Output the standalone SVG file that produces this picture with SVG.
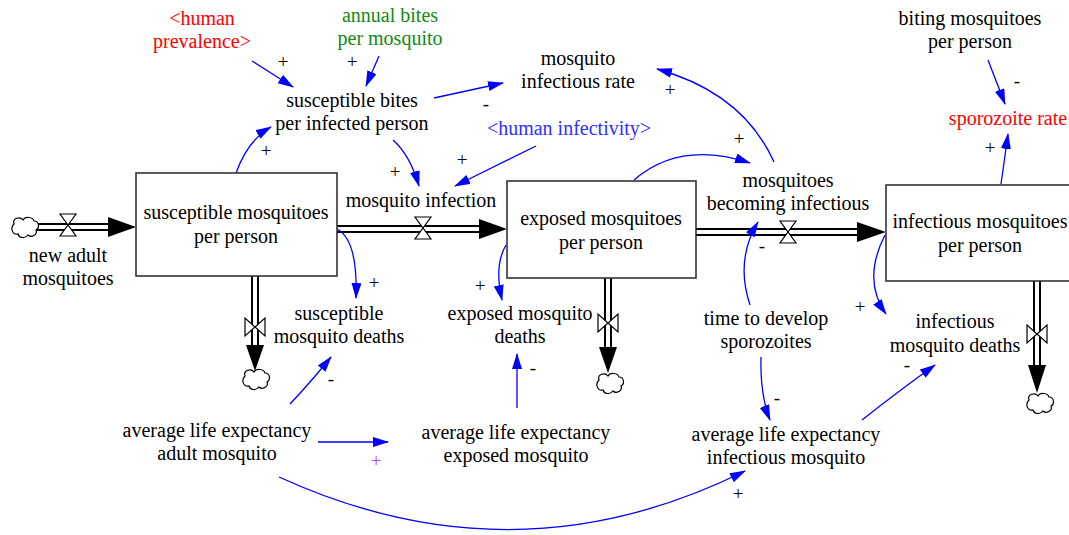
<svg xmlns="http://www.w3.org/2000/svg" xmlns:xlink="http://www.w3.org/1999/xlink" width="1069" height="535" viewBox="0 0 1069 535">
<style>
text{font-family:"Liberation Serif","Times New Roman",serif;font-size:20px;text-anchor:middle;fill:#000}
.sign{font-size:19px}
.stock{fill:#fff;stroke:#333;stroke-width:1.6}
.pipeO{stroke:#000;stroke-width:8;fill:none}
.pipeI{stroke:#fff;stroke-width:4;fill:none}
.head{fill:#000}
.valve{fill:#fff;stroke:#000;stroke-width:1.2}
.link{fill:none;stroke:#0000ff;stroke-width:1.3;marker-end:url(#arr)}
</style>
<defs>
<marker id="arr" markerUnits="userSpaceOnUse" markerWidth="18" markerHeight="12" refX="15" refY="5" orient="auto">
<path d="M0,0 L16,5 L0,10 Z" fill="#0000ff"/>
</marker>
<path id="cloud" d="M-11,-3 C-13,-9 -5,-11 -2,-7 C0,-11 8,-10 9,-6 C14,-6 15,1 11,3 C13,8 6,11 3,8 C0,12 -6,11 -7,7 C-13,8 -15,1 -11,-3 Z" fill="#fff" stroke="#000" stroke-width="1.2"/>
<g id="valveH"><path class="valve" d="M-8,-11 L8,-11 L0,0 Z M-8,11 L8,11 L0,0 Z"/></g>
<g id="valveV"><path class="valve" d="M-10,-9 L-10,9 L0,0 Z M10,-9 L10,9 L0,0 Z"/></g>
</defs>

<g id="flows">
<line class="pipeO" x1="37" y1="227" x2="110" y2="227"/>
<line class="pipeI" x1="37" y1="227" x2="108" y2="227"/>
<line class="pipeO" x1="337" y1="229" x2="481" y2="229"/>
<line class="pipeI" x1="337" y1="229" x2="479" y2="229"/>
<line class="pipeO" x1="696" y1="232" x2="859" y2="232"/>
<line class="pipeI" x1="696" y1="232" x2="857" y2="232"/>
<line class="pipeO" x1="255" y1="276" x2="255" y2="347"/>
<line class="pipeI" x1="255" y1="276" x2="255" y2="345"/>
<line class="pipeO" x1="608" y1="278" x2="608" y2="349"/>
<line class="pipeI" x1="608" y1="278" x2="608" y2="347"/>
<line class="pipeO" x1="1037" y1="281" x2="1037" y2="367"/>
<line class="pipeI" x1="1037" y1="281" x2="1037" y2="365"/>
<polygon class="head" points="108,217 136,227 108,237"/>
<polygon class="head" points="479,219 507,229 479,239"/>
<polygon class="head" points="857,222 886,232 857,242"/>
<polygon class="head" points="246,345 264,345 255,371"/>
<polygon class="head" points="599,347 617,347 608,373"/>
<polygon class="head" points="1028,365 1046,365 1037,393"/>
<use href="#cloud" x="25" y="227"/>
<use href="#cloud" x="256" y="379"/>
<use href="#cloud" x="610" y="383"/>
<use href="#cloud" x="1040" y="403"/>
<use href="#valveH" x="68" y="225"/>
<use href="#valveH" x="423" y="228"/>
<use href="#valveH" x="788" y="232"/>
<use href="#valveV" x="255" y="327"/>
<use href="#valveV" x="608" y="323"/>
<use href="#valveV" x="1037" y="334"/>
</g>

<g id="links">
<path class="link" d="M252,61 L293,87"/>
<path class="link" d="M379,56 L366,86"/>
<path class="link" d="M236,173 Q248,140 271,127"/>
<path class="link" d="M434,98 L503,83"/>
<path class="link" d="M393,140 Q410,155 419,186"/>
<path class="link" d="M536,146 L455,186"/>
<path class="link" d="M774,162 Q743,93 657,69"/>
<path class="link" d="M634,180 Q680,140 750,163"/>
<path class="link" d="M337,229 Q358,240 356,298"/>
<path class="link" d="M506,245 Q494,265 502,300"/>
<path class="link" d="M750,305 Q735,260 758,222"/>
<path class="link" d="M761,357 Q760,395 770,420"/>
<path class="link" d="M885,235 Q862,280 886,314"/>
<path class="link" d="M862,420 Q900,390 935,365"/>
<path class="link" d="M1001,184 L1008,134"/>
<path class="link" d="M988,60 L1005,104"/>
<path class="link" d="M290,404 Q310,383 331,357"/>
<path class="link" d="M318,442 L388,442"/>
<path class="link" d="M517,408 L517,354"/>
<path class="link" d="M279,477 Q515,585 745,471"/>
</g>

<g id="signs">
<text class="sign" x="283" y="68">+</text>
<text class="sign" x="352" y="68">+</text>
<text class="sign" x="266" y="157">+</text>
<text class="sign" x="486" y="110">-</text>
<text class="sign" x="395" y="178">+</text>
<text class="sign" x="462" y="166">+</text>
<text class="sign" x="670" y="96">+</text>
<text class="sign" x="739" y="145">+</text>
<text class="sign" x="374" y="289">+</text>
<text class="sign" x="480" y="292">+</text>
<text class="sign" x="762" y="252">-</text>
<text class="sign" x="777" y="404">-</text>
<text class="sign" x="860" y="313">+</text>
<text class="sign" x="907" y="371">-</text>
<text class="sign" x="990" y="154">+</text>
<text class="sign" x="1017" y="87">-</text>
<text class="sign" x="331" y="385">-</text>
<text class="sign" x="376" y="467" style="fill:#b040ff">+</text>
<text class="sign" x="533" y="374">-</text>
<text class="sign" x="738" y="500">+</text>
</g>

<g id="susceptible_mosquitoes_per_person">
<rect class="stock" x="136" y="173" width="201" height="103"/>
<text x="236" y="219">susceptible mosquitoes</text>
<text x="236" y="243">per person</text>
</g>
<g id="exposed_mosquitoes_per_person">
<rect class="stock" x="507" y="181" width="189" height="97"/>
<text x="601" y="225">exposed mosquitoes</text>
<text x="601" y="249">per person</text>
</g>
<g id="infectious_mosquitoes_per_person">
<rect class="stock" x="886" y="185" width="200" height="96"/>
<text x="980" y="228">infectious mosquitoes</text>
<text x="980" y="252">per person</text>
</g>

<g id="new_adult_mosquitoes"><text x="68" y="262">new adult</text><text x="68" y="285">mosquitoes</text></g>
<g id="mosquito_infection"><text x="421" y="207">mosquito infection</text></g>
<g id="mosquitoes_becoming_infectious"><text x="788" y="187">mosquitoes</text><text x="788" y="210">becoming infectious</text></g>
<g id="human_prevalence"><text x="202" y="25" style="fill:#ff0000">&lt;human</text><text x="202" y="48" style="fill:#ff0000">prevalence&gt;</text></g>
<g id="annual_bites_per_mosquito"><text x="390" y="22" style="fill:#108a10">annual bites</text><text x="390" y="45" style="fill:#108a10">per mosquito</text></g>
<g id="mosquito_infectious_rate"><text x="578" y="65">mosquito</text><text x="578" y="88">infectious rate</text></g>
<g id="susceptible_bites_per_infected_person"><text x="352" y="107">susceptible bites</text><text x="352" y="130">per infected person</text></g>
<g id="human_infectivity"><text x="569" y="135" style="fill:#3030ff">&lt;human infectivity&gt;</text></g>
<g id="biting_mosquitoes_per_person"><text x="970" y="25">biting mosquitoes</text><text x="970" y="48">per person</text></g>
<g id="sporozoite_rate"><text x="1008" y="125" style="fill:#ff0000">sporozoite rate</text></g>
<g id="susceptible_mosquito_deaths"><text x="339" y="320">susceptible</text><text x="339" y="343">mosquito deaths</text></g>
<g id="exposed_mosquito_deaths"><text x="520" y="320">exposed mosquito</text><text x="520" y="343">deaths</text></g>
<g id="time_to_develop_sporozoites"><text x="766" y="325">time to develop</text><text x="766" y="348">sporozoites</text></g>
<g id="infectious_mosquito_deaths"><text x="955" y="328">infectious</text><text x="955" y="352">mosquito deaths</text></g>
<g id="average_life_expectancy_adult_mosquito"><text x="217" y="437">average life expectancy</text><text x="217" y="460">adult mosquito</text></g>
<g id="average_life_expectancy_exposed_mosquito"><text x="516" y="439">average life expectancy</text><text x="516" y="462">exposed mosquito</text></g>
<g id="average_life_expectancy_infectious_mosquito"><text x="786" y="441">average life expectancy</text><text x="786" y="464">infectious mosquito</text></g>
</svg>
